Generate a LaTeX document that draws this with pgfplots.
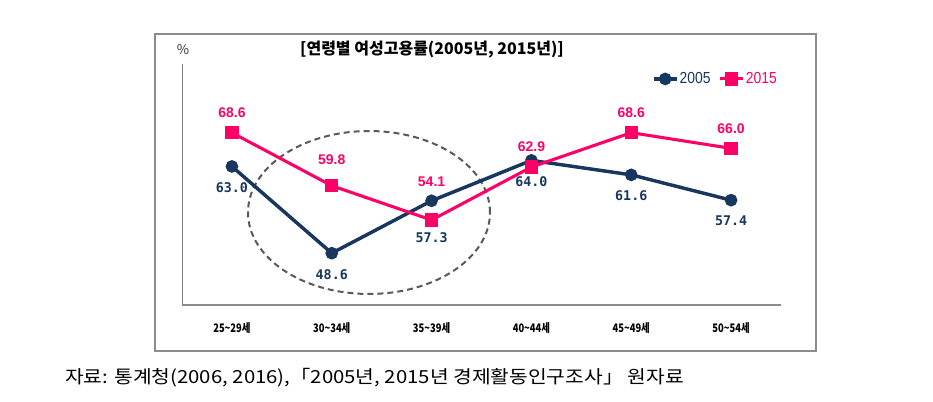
\documentclass[border=0pt]{standalone}
\usepackage{pgfplots}
\pgfplotsset{compat=1.18}
\usepackage{fontspec}
\setmainfont{Liberation Sans}
\newfontfamily\kr{Noto Sans CJK KR}
\newfontfamily\krc[FakeStretch=0.8]{Noto Sans CJK KR}
\newfontfamily\krw[FakeStretch=1.13]{Noto Sans CJK KR}
\newfontfamily\mono{DejaVu Sans Mono}
\newfontfamily\legf[FakeStretch=0.87]{Liberation Sans}
\definecolor{navy}{HTML}{17375E}
\definecolor{hpink}{HTML}{FF0066}
\definecolor{frame}{HTML}{8C8C8C}
\begin{document}
\begin{tikzpicture}[x=0.75pt,y=0.75pt]
\useasboundingbox (0,0) rectangle (933,401);
% outer frame
\draw[frame, line width=1.1pt] (155,367) rectangle (816,50);
% dashed ellipse
\draw[color=black!65, line width=1.5pt, dash pattern=on 4.5pt off 3pt] (369,188.5) ellipse [x radius=90.75pt, y radius=61.1pt];
\begin{axis}[
  at={(136.5pt,72pt)}, anchor=south west,
  scale only axis, width=449.25pt, height=180.75pt,
  xmin=-0.5, xmax=5.5, ymin=40, ymax=80,
  axis x line=bottom, axis y line=left,
  x axis line style={draw=black!45, line width=2pt, -},
  y axis line style={draw=black!50, line width=0.5pt, -},
  xtick={0,1,2,3,4,5},
  xticklabels={25\textasciitilde29세,30\textasciitilde34세,35\textasciitilde39세,40\textasciitilde44세,45\textasciitilde49세,50\textasciitilde54세},
  major tick length=0pt,
  ytick=\empty,
  xticklabel style={anchor=center, yshift=-17.25pt, font=\krc\bfseries\fontsize{8.8}{10}\selectfont, text=black},
  clip=false,
  legend style={draw=none, fill=none, at={(0.89,0.938)}, anchor=center, legend columns=2,
     font=\legf\fontsize{12}{14}\selectfont, inner sep=0pt,
     /tikz/every even column/.append style={column sep=5pt},
     nodes={inner sep=1pt}},
]
\addplot[navy, line width=2.6pt, mark=*, mark size=3.4pt] coordinates {(0,63.0) (1,48.6) (2,57.3) (3,64.0) (4,61.6) (5,57.4)};
\addlegendentry{\textcolor{navy}{2005}}
\addplot[hpink, line width=2.3pt, mark=square*, mark size=3.9pt] coordinates {(0,68.6) (1,59.8) (2,54.1) (3,62.9) (4,68.6) (5,66.0)};
\addlegendentry{\textcolor{hpink}{2015}}
% data labels 2005
\begin{scope}[every node/.style={font=\mono\bfseries\fontsize{10}{12}\selectfont, text=navy}]
\node at (axis cs:0,59.42) {63.0};
\node at (axis cs:1,44.98) {48.6};
\node at (axis cs:2,51.12) {57.3};
\node at (axis cs:3,60.41) {64.0};
\node at (axis cs:4,58.09) {61.6};
\node at (axis cs:5,53.94) {57.4};
\end{scope}
% data labels 2015
\begin{scope}[every node/.style={font=\bfseries\fontsize{10.5}{12}\selectfont, text=hpink}]
\node at (axis cs:0,71.87) {68.6};
\node at (axis cs:1,64.07) {59.8};
\node at (axis cs:2,60.41) {54.1};
\node at (axis cs:3,66.22) {62.9};
\node at (axis cs:4,71.87) {68.6};
\node at (axis cs:5,69.21) {66.0};
\end{scope}
\end{axis}
% title and unit
\node[font=\kr\bfseries\fontsize{12}{14}\selectfont] at (432,351) {[연령별 여성고용률(2005년, 2015년)]};
\node[font=\kr\fontsize{10}{12}\selectfont, text=black!80] at (183,351) {\%};
% source
\node[anchor=west, font=\krw\fontsize{13.5}{16}\selectfont, inner sep=0pt] at (65,23) {자료: 통계청(2006, 2016),「2005년, 2015년 경제활동인구조사」 원자료};
\end{tikzpicture}
\end{document}
